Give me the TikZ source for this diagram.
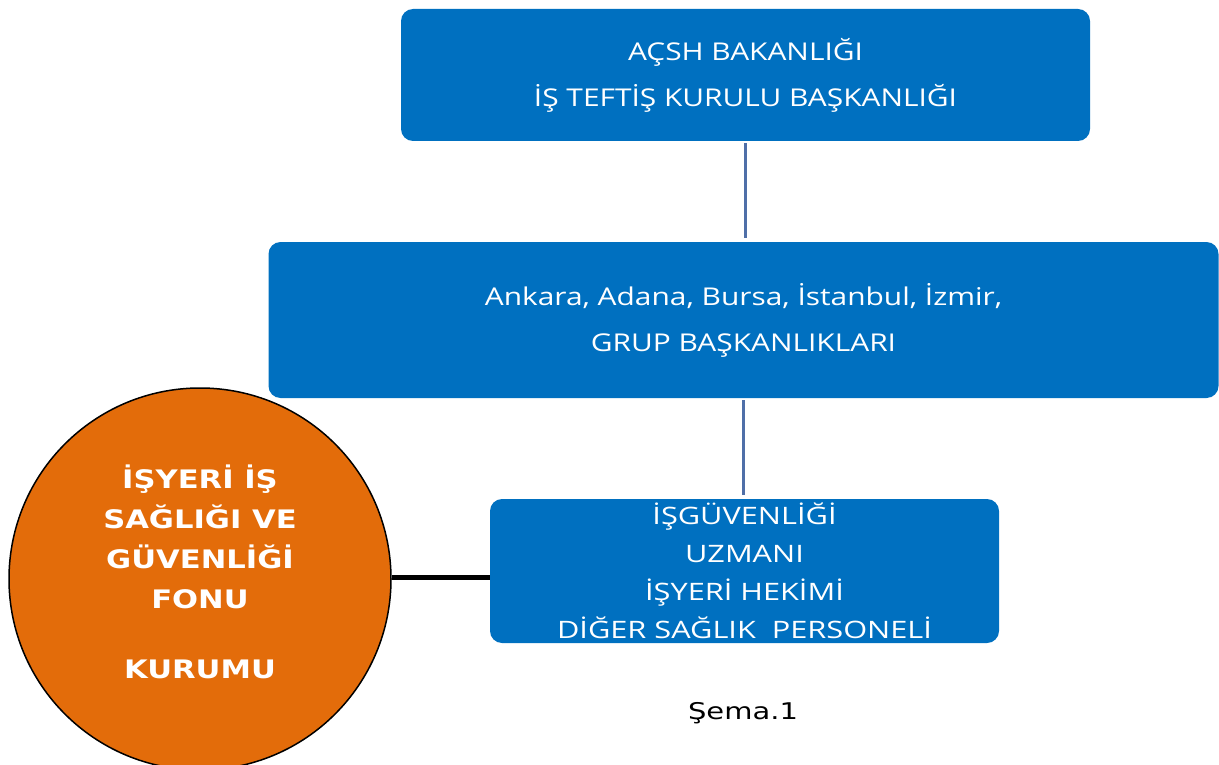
\documentclass[tikz,border=0pt]{standalone}
\usepackage{fontspec}
\newfontfamily\boxfont[FakeStretch=1.22]{Open Sans}
\newfontfamily\boxfontb[FakeStretch=1.28]{Open Sans}
\newfontfamily\verdb[FakeStretch=1.2]{DejaVu Sans}
\newfontfamily\verd[FakeStretch=1.26]{DejaVu Sans}
\definecolor{boxblue}{HTML}{0070C0}
\definecolor{linkblue}{HTML}{4F6FA8}
\definecolor{fonorange}{HTML}{E36C0A}
\begin{document}
\begin{tikzpicture}[x=1pt,y=-1pt,
  bluebox/.style={fill=boxblue,draw=none,rounded corners=12pt,text=white,align=center,
    font=\boxfont\fontsize{24.5}{46}\selectfont,inner sep=0pt},
  link/.style={draw=linkblue,line width=3.5pt},
  blackline/.style={draw=black,line width=5pt}]
\useasboundingbox (0,0) rectangle (1219,765);
\node[bluebox,minimum width=689pt,minimum height=132pt] (b1) at (745.5,75)
  {AÇSH BAKANLIĞI\\İŞ TEFTİŞ KURULU BAŞKANLIĞI};
\node[bluebox,minimum width=950pt,minimum height=156pt] (b2) at (743.5,320)
  {Ankara, Adana, Bursa, İstanbul, İzmir,\\GRUP BAŞKANLIKLARI};
\node[bluebox,minimum width=509pt,minimum height=144pt,font=\boxfontb\fontsize{24}{38}\selectfont] (b3) at (744.5,571)
  {İŞGÜVENLİĞİ\\UZMANI\\İŞYERİ HEKİMİ\\DİĞER SAĞLIK\ \ PERSONELİ};
\node[circle,fill=fonorange,draw=black,line width=1.5pt,minimum size=382pt,inner sep=0pt] (c) at (200,579) {};
\node[text=white,align=center,font=\verdb\bfseries\fontsize{25.5}{40}\selectfont] (ct) at (200,572)
  {İŞYERİ İŞ\\SAĞLIĞI VE\\GÜVENLİĞİ\\FONU\\[30pt]KURUMU};
\node[font=\verd\fontsize{23}{26}\selectfont] (cap) at (743,713) {Şema.1};
\draw[link,shorten <=2pt,shorten >=4pt] (b1.south) -- (b1.south |- b2.north);
\draw[link,shorten <=2pt,shorten >=4pt] (b2.south) -- (b2.south |- b3.north);
\draw[blackline] (c.east |- 0,577) -- (b3.west |- 0,577);
\end{tikzpicture}
\end{document}
